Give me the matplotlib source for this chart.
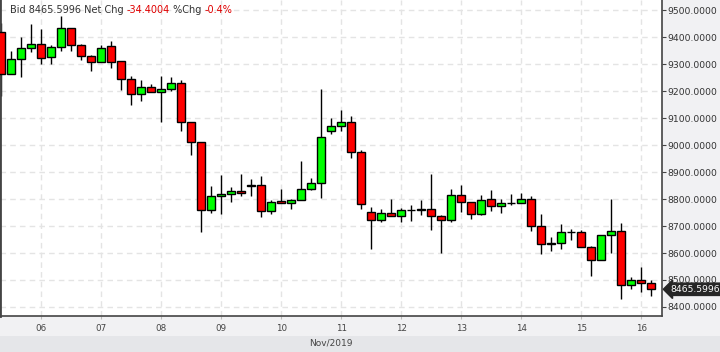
import matplotlib
matplotlib.use("Agg")
import matplotlib.pyplot as plt
import matplotlib.transforms as mtransforms
from matplotlib.patches import Rectangle
import numpy as np

# 4h candles, 05 Nov 08:00 -> 16 Nov 04:00
opens = [9420.7, 9262.7, 9318.3, 9359.1, 9373.9, 9325.7, 9362.8, 9433.3, 9370.2, 9329.5,
         9307.2, 9366.5, 9310.9, 9246.4, 9188.6, 9214.5, 9196.0, 9207.1, 9229.3, 9084.7,
         9010.6, 8758.5, 8810.4, 8817.8, 8828.9, 8847.3, 8851.1, 8754.7, 8791.8, 8784.4,
         8795.5, 8836.3, 8858.6, 9051.4, 9069.9, 9084.7, 8973.5, 8751.0, 8721.4, 8747.3,
         8736.2, 8758.5, 8758.5, 8762.2, 8736.2, 8721.4, 8814.1, 8788.1, 8743.6, 8799.2,
         8773.3, 8784.4, 8784.4, 8799.2, 8699.1, 8632.4, 8636.1, 8676.9, 8676.9, 8621.3,
         8573.1, 8665.8, 8680.6, 8480.4, 8498.9, 8487.8]
highs = [9451.8, 9349.1, 9399.9, 9449.2, 9429.6, 9371.3, 9478.9, 9433.3, 9376.2, 9333.2,
         9371.3, 9386.2, 9310.9, 9256.4, 9241.6, 9226.7, 9256.4, 9251.6, 9240.5, 9084.7,
         9010.6, 8848.6, 8888.2, 8843.7, 8893.0, 8874.5, 8885.6, 8796.6, 8837.4, 8800.3,
         8941.2, 8878.2, 9207.1, 9099.6, 9129.2, 9107.0, 8980.9, 8770.7, 8762.2, 8800.3,
         8767.0, 8777.0, 8795.5, 8893.0, 8739.9, 8836.3, 8853.4, 8788.1, 8814.1, 8832.6,
         8799.2, 8817.8, 8821.5, 8810.4, 8744.7, 8658.4, 8706.5, 8688.0, 8684.3, 8625.0,
         8665.8, 8799.2, 8710.3, 8510.0, 8547.1, 8498.9]
lows = [9183.4, 9262.7, 9253.8, 9346.5, 9299.8, 9299.8, 9350.2, 9350.2, 9315.7, 9276.1,
        9307.2, 9287.2, 9204.5, 9150.0, 9164.8, 9196.0, 9084.7, 9201.9, 9053.6, 8964.6,
        8679.1, 8747.3, 8745.8, 8790.3, 8810.4, 8812.6, 8734.7, 8745.8, 8784.4, 8762.2,
        8795.5, 8832.6, 8805.2, 9040.2, 9053.6, 8953.5, 8764.4, 8616.1, 8713.9, 8736.2,
        8716.2, 8719.9, 8742.1, 8685.4, 8601.2, 8713.9, 8751.0, 8727.3, 8739.9, 8757.0,
        8747.3, 8777.0, 8784.4, 8682.8, 8597.6, 8608.7, 8616.1, 8649.4, 8621.3, 8516.0,
        8573.1, 8601.2, 8428.5, 8465.5, 8454.4, 8439.6]
closes = [9263.8, 9318.3, 9359.1, 9373.9, 9322.0, 9362.8, 9433.3, 9370.2, 9329.5, 9307.2,
          9359.1, 9309.4, 9246.4, 9188.6, 9214.5, 9196.0, 9207.1, 9229.3, 9084.7, 9010.6,
          8758.5, 8810.4, 8817.8, 8828.9, 8821.5, 8851.1, 8754.7, 8788.1, 8784.4, 8795.5,
          8836.3, 8858.6, 9029.1, 9069.9, 9084.7, 8973.5, 8780.7, 8721.4, 8747.3, 8736.2,
          8758.5, 8758.5, 8762.2, 8736.2, 8721.4, 8814.1, 8788.1, 8743.6, 8795.5, 8773.3,
          8784.4, 8784.4, 8799.2, 8699.1, 8632.4, 8636.1, 8676.9, 8676.9, 8621.3, 8573.1,
          8665.8, 8680.6, 8480.4, 8498.9, 8487.8, 8465.6]

day_idx = [4, 10, 16, 22, 28, 34, 40, 46, 52, 58, 64]
day_labels = ["06", "07", "08", "09", "10", "11", "12", "13", "14", "15", "16"]
price_ticks = [8400, 8500, 8600, 8700, 8800, 8900, 9000, 9100, 9200, 9300, 9400, 9500]

bid = "8465.5996"
net_chg = "-34.4004"
pct_chg = "-0.4%"

fig = plt.figure(figsize=(7.2, 3.52), dpi=100, facecolor="#f1f1f3")
ax = fig.add_axes([0, 36 / 352, 662 / 720, 316 / 352])
ax.set_facecolor("white")

x = np.arange(len(opens))
o = np.array(opens)
c = np.array(closes)
colors = np.where(c >= o, "#00ff00", "#ff0000")

ax.vlines(x, lows, highs, color="black", linewidth=1.0, zorder=2)
ax.bar(x, c - o, bottom=o, width=0.8, color=colors, edgecolor="black",
       linewidth=1.0, zorder=3)

ax.set_xlim(-0.13, 66.07)
ax.set_ylim(8366.5, 9538.2)

ax.set_xticks(day_idx)
ax.set_xticklabels(day_labels)
ax.set_yticks(price_ticks)
ax.set_yticklabels(["%.4f" % p for p in price_ticks])
ax.yaxis.tick_right()

ax.grid(True, color="#e4e4e4", linestyle=(0, (4, 3)), linewidth=1.0, zorder=0)
ax.set_axisbelow(True)

ax.tick_params(axis="y", direction="out", length=3, width=0.8, color="#444444",
               labelsize=6.7, labelcolor="#333333", pad=1)
ax.tick_params(axis="x", direction="out", length=2.5, width=0.8, color="#bbbbbb",
               labelsize=6.3, labelcolor="#444444", pad=3.5)

for s in ["left", "right", "bottom"]:
    ax.spines[s].set_color("#444444")
    ax.spines[s].set_linewidth(1.2)
ax.spines["left"].set_linewidth(2.0)
ax.spines["top"].set_visible(False)

# last price tag
trans = mtransforms.blended_transform_factory(ax.transAxes, ax.transData)
ax.text(1.012, closes[-1], bid, transform=trans, color="white", fontsize=6.7,
        va="center", ha="left", clip_on=False, zorder=10,
        bbox=dict(boxstyle="larrow,pad=0.18", fc="#262626", ec="#262626"))

# header
t = ax.text(0.015, 0.968, "Bid " + bid + " Net Chg ", transform=ax.transAxes,
            fontsize=7, color="#333333", va="center", ha="left", zorder=10)
t = ax.annotate(net_chg, xycoords=t, xy=(1, 0), va="bottom", fontsize=7, color="#e00000")
t = ax.annotate(" %Chg ", xycoords=t, xy=(1, 0), va="bottom", fontsize=7, color="#333333")
t = ax.annotate(pct_chg, xycoords=t, xy=(1, 0), va="bottom", fontsize=7, color="#e00000")

# month band
fig.patches.append(Rectangle((0, 0), 1, 16.3 / 352, transform=fig.transFigure,
                             facecolor="#e5e6e9", edgecolor="none", zorder=0))
fig.text(331 / 720, 8.5 / 352, "Nov/2019", fontsize=6.5, color="#444444",
         ha="center", va="center")

fig.savefig("out.png", dpi=100, facecolor=fig.get_facecolor())
